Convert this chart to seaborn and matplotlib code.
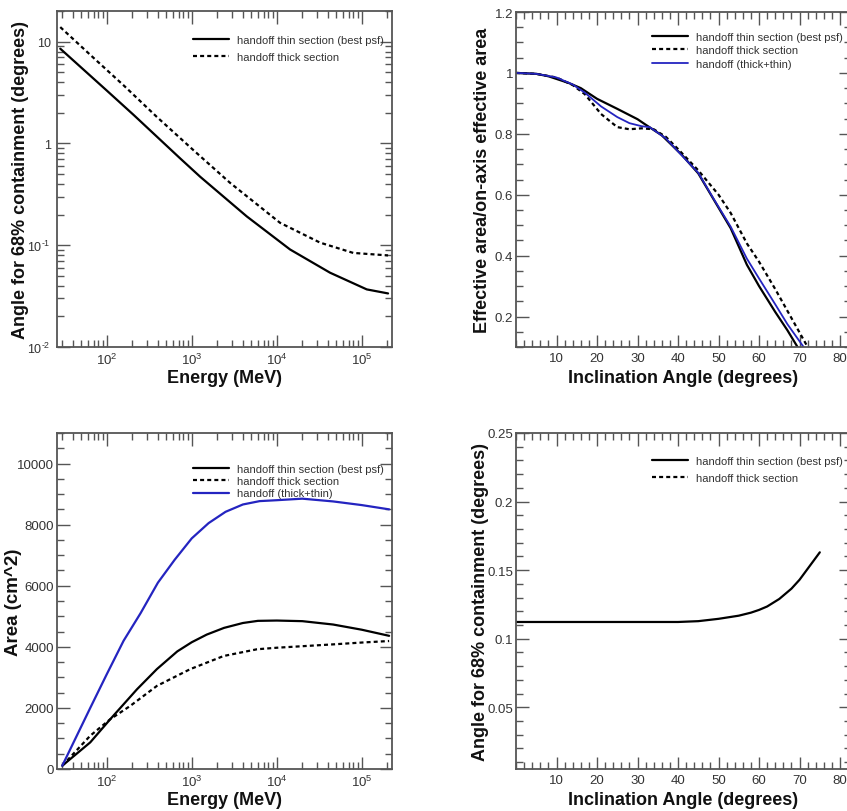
import numpy as np
import pandas as pd
import matplotlib
matplotlib.use("Agg")
import matplotlib.pyplot as plt
import seaborn as sns
from matplotlib.ticker import MultipleLocator, LogLocator, NullFormatter, FixedLocator, FixedFormatter
from matplotlib.lines import Line2D

# ---------------- data ----------------
# Panel 1: PSF 68% containment vs energy
psf_thin_energy = [28.4, 100, 208, 728, 1259, 4436, 14350, 42360, 114600, 204000]
psf_thin = [8.53, 3.31, 1.9, 0.715, 0.47, 0.192, 0.0908, 0.0537, 0.0368, 0.0336]
psf_thick_energy = [28.4, 64.1, 158, 389, 1045, 2825, 10940, 32360, 79430, 204000]
psf_thick = [13.9, 7.41, 3.72, 1.82, 0.86, 0.41, 0.166, 0.106, 0.084, 0.0794]

# Panel 2: relative effective area vs inclination
angle_thin = [0, 5, 8, 13, 16, 20, 25, 30, 32, 36, 41, 45, 49, 53, 57, 60, 64, 67, 69.5]
aeff_thin = [1.0, 0.997, 0.989, 0.967, 0.95, 0.915, 0.882, 0.848, 0.83, 0.795, 0.73, 0.67,
             0.58, 0.49, 0.37, 0.30, 0.215, 0.155, 0.10]
angle_thick = [0, 5, 10, 14, 17, 21, 25, 28, 31, 34, 37, 40, 45, 50, 53, 57, 60, 64, 68, 72]
aeff_thick = [1.0, 0.997, 0.985, 0.96, 0.93, 0.865, 0.822, 0.815, 0.818, 0.815, 0.79, 0.75,
              0.68, 0.60, 0.54, 0.44, 0.38, 0.29, 0.195, 0.10]
angle_both = [0, 5, 10, 14, 17, 21, 25, 28, 31, 33, 37, 41, 45, 49, 53, 57, 60, 64, 67, 71]
aeff_both = [1.0, 0.997, 0.985, 0.962, 0.935, 0.89, 0.855, 0.835, 0.825, 0.822, 0.785, 0.728,
             0.672, 0.582, 0.495, 0.39, 0.325, 0.24, 0.175, 0.10]

# Panel 3: effective area vs energy
area_both_energy = [30, 64, 100, 158, 250, 400, 630, 1000, 1580, 2500, 4000, 6300,
                    10000, 20000, 46000, 100000, 210000]
area_both = [108, 2000, 3100, 4200, 5100, 6100, 6850, 7550, 8050, 8420, 8660, 8770,
             8800, 8850, 8760, 8640, 8500]
area_thin_energy = [30, 64, 110, 227, 389, 676, 1000, 1500, 2400, 4000, 6000,
                    10000, 20000, 46000, 100000, 210000]
area_thin = [108, 872, 1630, 2610, 3270, 3850, 4150, 4400, 4620, 4780, 4850,
             4860, 4840, 4730, 4560, 4360]
area_thick_energy = [30, 64, 110, 190, 389, 961, 2377, 5861, 10000, 20000, 46000, 100000, 210000]
area_thick = [108, 1090, 1630, 2070, 2720, 3270, 3700, 3920, 3970, 4020, 4080, 4140, 4190]

# Panel 4: PSF vs inclination
psf_angle = [0, 10, 20, 30, 40, 45, 50, 55, 58, 60, 62, 65, 68, 70, 72, 75]
psf_angle_thin = [0.1122, 0.1122, 0.1122, 0.1122, 0.1122, 0.1128, 0.1145, 0.1168, 0.119,
                  0.121, 0.1235, 0.129, 0.1365, 0.143, 0.151, 0.163]

lbl_thin = "handoff thin section (best psf)"
lbl_thick = "handoff thick section"
lbl_both = "handoff (thick+thin)"

# ---------------- style ----------------
sns.set_style("ticks")
plt.rcParams['font.family'] = ['Liberation Sans', 'DejaVu Sans']
plt.rcParams['mathtext.fontset'] = 'custom'
plt.rcParams['mathtext.rm'] = 'Liberation Sans'
plt.rcParams['mathtext.it'] = 'Liberation Sans'
plt.rcParams['mathtext.default'] = 'regular'
GREY = "#555555"
TXT = "#333333"
BLUE = "#2424c0"
DOT = (0, (1.8, 1.4))

fig = plt.figure(figsize=(8.47, 8.12), dpi=100)
W, H = 847.0, 812.0
def pos(l, t, w=335, h=336):
    return [l / W, (H - t - h) / H, w / W, h / H]

ax1 = fig.add_axes(pos(57, 12))
ax2 = fig.add_axes(pos(516, 13, h=335))
ax3 = fig.add_axes(pos(57, 434))
ax4 = fig.add_axes(pos(516, 434))

def style(ax, ypad=2.0, ysize=9.5):
    for s in ax.spines.values():
        s.set_color(GREY)
        s.set_linewidth(1.3)
    ax.tick_params(which='both', direction='in', top=True, right=True, color=GREY,
                   labelcolor=TXT, labelsize=9.5, width=1.0)
    ax.tick_params(which='major', length=9)
    ax.tick_params(which='minor', length=5)
    ax.tick_params(axis='y', which='major', pad=ypad, labelsize=ysize)

def labels(ax, xl, yl, ylx, ysize=13):
    ax.set_xlabel(xl, fontsize=13, fontweight='bold', color="#111111")
    ax.set_ylabel(yl, fontsize=ysize, fontweight='bold', color="#111111")
    ax.xaxis.set_label_coords(0.5, -0.092)
    ax.xaxis.label.set_verticalalignment('center')
    ax.yaxis.set_label_coords(ylx, 0.5)
    ax.yaxis.label.set_verticalalignment('center')

def leg(ax, handles, names, x_px, top_px, spacing):
    ax.legend(handles, names, loc='upper left',
              bbox_to_anchor=(x_px / W, 1 - top_px / H), bbox_transform=fig.transFigure,
              frameon=False, fontsize=8, handlelength=3.2, handletextpad=0.8,
              labelspacing=spacing, borderpad=0, borderaxespad=0, labelcolor=TXT)

# Panel 1
sns.lineplot(x=psf_thin_energy, y=psf_thin, ax=ax1, color="black", lw=1.6, label=lbl_thin)
sns.lineplot(x=psf_thick_energy, y=psf_thick, ax=ax1, color="black", lw=1.6, ls=DOT, label=lbl_thick)
ax1.set_xscale('log'); ax1.set_yscale('log')
ax1.set_xlim(26, 2.27e5); ax1.set_ylim(0.01, 20)
ax1.set_xticks([1e2, 1e3, 1e4, 1e5])
ax1.set_xticklabels([r"$10^2$", r"$10^3$", r"$10^4$", r"$10^5$"])
ax1.set_yticks([0.01, 0.1, 1, 10])
ax1.set_yticklabels([r"$10^{\text{-}2}$", r"$10^{\text{-}1}$", "1", "10"])
ax1.xaxis.set_minor_locator(LogLocator(base=10, subs=np.arange(2, 10), numticks=20))
ax1.yaxis.set_minor_locator(LogLocator(base=10, subs=np.arange(2, 10), numticks=20))
ax1.xaxis.set_minor_formatter(NullFormatter()); ax1.yaxis.set_minor_formatter(NullFormatter())
labels(ax1, "Energy (MeV)", "Angle for 68% containment (degrees)", -0.108)
style(ax1, ypad=4.5, ysize=9)
h, l = ax1.get_legend_handles_labels()
leg(ax1, h, l, 193, 36, 0.6)

# Panel 2
sns.lineplot(x=angle_thin, y=aeff_thin, ax=ax2, color="black", lw=1.6, label=lbl_thin)
sns.lineplot(x=angle_thick, y=aeff_thick, ax=ax2, color="black", lw=1.6, ls=DOT, label=lbl_thick)
sns.lineplot(x=angle_both, y=aeff_both, ax=ax2, color=BLUE, lw=1.3, label=lbl_both)
ax2.set_xlim(0, 82.7); ax2.set_ylim(0.1, 1.2)
ax2.xaxis.set_major_locator(FixedLocator([10, 20, 30, 40, 50, 60, 70, 80]))
ax2.xaxis.set_major_formatter(FixedFormatter(["10", "20", "30", "40", "50", "60", "70", "80"]))
ax2.xaxis.set_minor_locator(MultipleLocator(2))
ax2.yaxis.set_major_locator(FixedLocator([0.2, 0.4, 0.6, 0.8, 1.0, 1.2]))
ax2.yaxis.set_major_formatter(FixedFormatter(["0.2", "0.4", "0.6", "0.8", "1", "1.2"]))
ax2.yaxis.set_minor_locator(MultipleLocator(0.05))
labels(ax2, "Inclination Angle (degrees)", "Effective area/on-axis effective area", -0.10)
style(ax2)
h, l = ax2.get_legend_handles_labels()
leg(ax2, h, l, 652, 33, 0.3)

# Panel 3
sns.lineplot(x=area_thin_energy, y=area_thin, ax=ax3, color="black", lw=1.6, label=lbl_thin)
sns.lineplot(x=area_thick_energy, y=area_thick, ax=ax3, color="black", lw=1.6, ls=DOT, label=lbl_thick)
sns.lineplot(x=area_both_energy, y=area_both, ax=ax3, color=BLUE, lw=1.6, label=lbl_both)
ax3.set_xscale('log')
ax3.set_xlim(26, 2.27e5); ax3.set_ylim(0, 11000)
ax3.set_xticks([1e2, 1e3, 1e4, 1e5])
ax3.set_xticklabels([r"$10^2$", r"$10^3$", r"$10^4$", r"$10^5$"])
ax3.xaxis.set_minor_locator(LogLocator(base=10, subs=np.arange(2, 10), numticks=20))
ax3.xaxis.set_minor_formatter(NullFormatter())
ax3.yaxis.set_major_locator(MultipleLocator(2000))
ax3.yaxis.set_minor_locator(MultipleLocator(500))
labels(ax3, "Energy (MeV)", "Area (cm^2)", -0.13, ysize=13.5)
style(ax3)
h, l = ax3.get_legend_handles_labels()
leg(ax3, h, l, 193, 465, 0.2)

# Panel 4
sns.lineplot(x=psf_angle, y=psf_angle_thin, ax=ax4, color="black", lw=1.6, label=lbl_thin)
h, l = ax4.get_legend_handles_labels()
h.append(Line2D([], [], color="black", lw=1.6, ls=DOT)); l.append(lbl_thick)
ax4.set_xlim(0, 82.7); ax4.set_ylim(0.005, 0.25)
ax4.xaxis.set_major_locator(FixedLocator([10, 20, 30, 40, 50, 60, 70, 80]))
ax4.xaxis.set_major_formatter(FixedFormatter(["10", "20", "30", "40", "50", "60", "70", "80"]))
ax4.xaxis.set_minor_locator(MultipleLocator(2))
ax4.yaxis.set_major_locator(FixedLocator([0.05, 0.1, 0.15, 0.2, 0.25]))
ax4.yaxis.set_major_formatter(FixedFormatter(["0.05", "0.1", "0.15", "0.2", "0.25"]))
ax4.yaxis.set_minor_locator(MultipleLocator(0.01))
labels(ax4, "Inclination Angle (degrees)", "Angle for 68% containment (degrees)", -0.107)
style(ax4)
leg(ax4, h, l, 652, 457, 0.6)

fig.savefig("out.png", dpi=100)
